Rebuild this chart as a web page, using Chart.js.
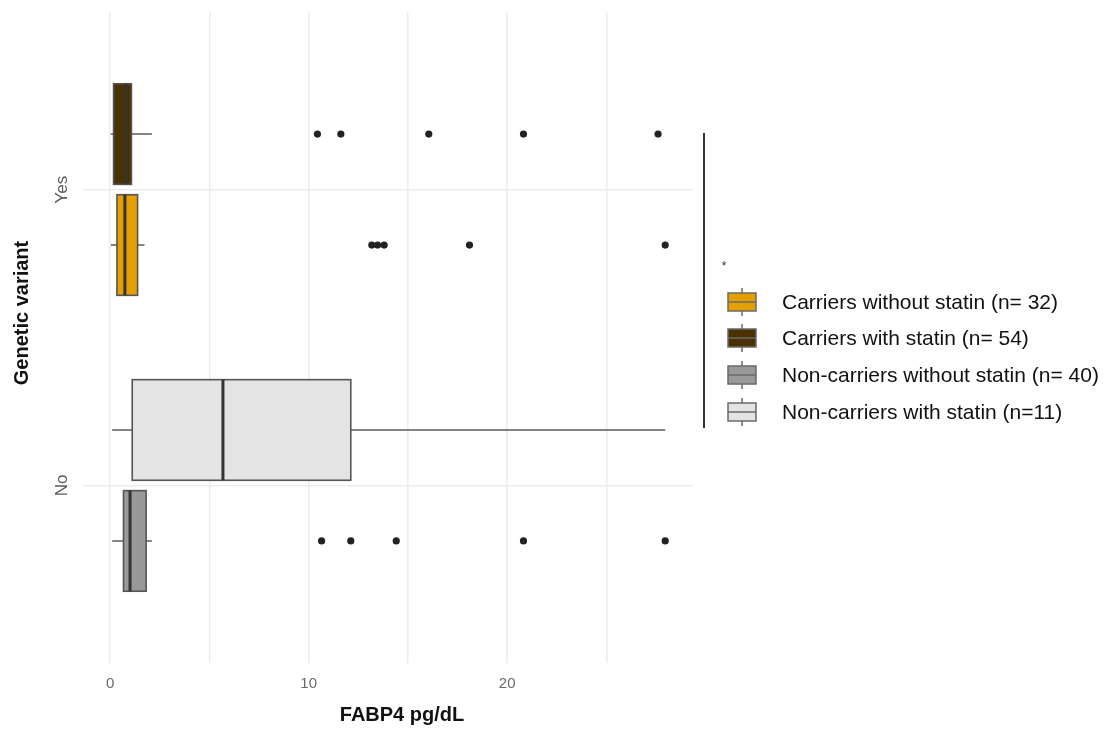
<!DOCTYPE html>
<html>
<head>
<meta charset="utf-8">
<script src="https://cdn.jsdelivr.net/npm/chart.js@4/dist/chart.umd.min.js"></script>
<style>
  html, body { margin: 0; padding: 0; background: #ffffff; }
  canvas { display: block; }
</style>
</head>
<body>
<canvas id="chart" width="1110" height="729"></canvas>
<script>
// Categories of the y axis (bottom to top)
const categories = ['No', 'Yes'];

// Groups, in legend order
const groups = [
  'Carriers without statin (n= 32)',
  'Carriers with statin (n= 54)',
  'Non-carriers without statin (n= 40)',
  'Non-carriers with statin (n=11)'
];
const groupCategory = ['Yes', 'Yes', 'No', 'No'];
const groupStatin = [false, true, false, true];

// Box-plot statistics of FABP4 (pg/dL) per group
const whiskerLow  = [0.03, 0.03, 0.10, 0.10];
const q1          = [0.34, 0.17, 0.67, 1.11];
const median      = [0.74, 0.78, 1.00, 5.68];
const q3          = [1.38, 1.07, 1.81, 12.12];
const whiskerHigh = [1.73, 2.10, 2.10, 27.96];
const outliers = [
  [13.18, 13.47, 13.80, 18.10, 27.96],
  [10.44, 11.62, 16.05, 20.82, 27.60],
  [10.65, 12.12, 14.41, 20.82, 27.96],
  []
];

// x-axis breaks
const xBreaks = [0, 5, 10, 15, 20, 25];
const xLabelled = [0, 10, 20];

const fills = ['#E69F00', '#4B3100', '#999999', '#E4E4E4'];
const FONT = '"Liberation Sans", Arial, sans-serif';

// dodge: statin group above, non-statin group below each category
const DODGE = 0.1875;
const HALF = 0.17;
function groupY(i) {
  const base = categories.indexOf(groupCategory[i]) + 1;
  return base + (groupStatin[i] ? DODGE : -DODGE);
}

const datasets = groups.map((g, i) => ({
  label: g,
  data: outliers[i].map(v => ({ x: v, y: groupY(i) })),
  pointRadius: 3.6,
  pointHoverRadius: 3.6,
  backgroundColor: '#222222',
  borderWidth: 0
}));

const boxPlugin = {
  id: 'boxes',
  beforeDatasetsDraw(chart) {
    const ctx = chart.ctx;
    const xs = chart.scales.x, ys = chart.scales.y;
    ctx.save();
    groups.forEach((g, i) => {
      const yc = ys.getPixelForValue(groupY(i));
      const top = ys.getPixelForValue(groupY(i) + HALF);
      const bot = ys.getPixelForValue(groupY(i) - HALF);
      const xl = xs.getPixelForValue(whiskerLow[i]);
      const x1 = xs.getPixelForValue(q1[i]);
      const xm = xs.getPixelForValue(median[i]);
      const x3 = xs.getPixelForValue(q3[i]);
      const xh = xs.getPixelForValue(whiskerHigh[i]);
      // whiskers
      ctx.strokeStyle = '#5c5c5c';
      ctx.lineWidth = 1.6;
      ctx.beginPath();
      ctx.moveTo(xl, yc); ctx.lineTo(x1, yc);
      ctx.moveTo(x3, yc); ctx.lineTo(xh, yc);
      ctx.stroke();
      // box
      ctx.fillStyle = fills[i];
      ctx.fillRect(x1, top, x3 - x1, bot - top);
      ctx.strokeStyle = '#555555';
      ctx.lineWidth = 1.6;
      ctx.strokeRect(x1, top, x3 - x1, bot - top);
      // median
      ctx.strokeStyle = '#333333';
      ctx.lineWidth = 3;
      ctx.beginPath();
      ctx.moveTo(xm, top); ctx.lineTo(xm, bot);
      ctx.stroke();
    });
    ctx.restore();
  }
};

const decorPlugin = {
  id: 'decor',
  afterDraw(chart) {
    const ctx = chart.ctx;
    const ys = chart.scales.y;
    ctx.save();

    // y category labels (rotated)
    ctx.fillStyle = '#5a5a5a';
    ctx.font = '17px ' + FONT;
    ctx.textAlign = 'center';
    ctx.textBaseline = 'middle';
    categories.forEach((c, k) => {
      const y = ys.getPixelForValue(k + 1);
      ctx.save();
      ctx.translate(62, y);
      ctx.rotate(-Math.PI / 2);
      ctx.fillText(c, 0, 0);
      ctx.restore();
    });

    // y axis title
    ctx.fillStyle = '#111111';
    ctx.font = 'bold 20px ' + FONT;
    ctx.save();
    ctx.translate(22, 313);
    ctx.rotate(-Math.PI / 2);
    ctx.fillText('Genetic variant', 0, 0);
    ctx.restore();

    // x axis title
    ctx.font = 'bold 20px ' + FONT;
    ctx.fillText('FABP4 pg/dL', 402, 715);

    // significance bracket and star
    ctx.strokeStyle = '#333333';
    ctx.lineWidth = 2;
    ctx.beginPath();
    ctx.moveTo(704, 133);
    ctx.lineTo(704, 428);
    ctx.stroke();
    ctx.fillStyle = '#333333';
    ctx.font = '12px ' + FONT;
    ctx.fillText('*', 724, 267);

    // legend
    const rows = [302, 338, 375, 412];
    groups.forEach((g, i) => {
      const cy = rows[i], cx = 742, w = 28, h = 18;
      ctx.strokeStyle = '#6a6a6a';
      ctx.lineWidth = 1.5;
      ctx.beginPath();
      ctx.moveTo(cx, cy - h / 2 - 5); ctx.lineTo(cx, cy - h / 2);
      ctx.moveTo(cx, cy + h / 2); ctx.lineTo(cx, cy + h / 2 + 5);
      ctx.stroke();
      ctx.fillStyle = fills[i];
      ctx.fillRect(cx - w / 2, cy - h / 2, w, h);
      ctx.strokeRect(cx - w / 2, cy - h / 2, w, h);
      ctx.beginPath();
      ctx.moveTo(cx - w / 2, cy); ctx.lineTo(cx + w / 2, cy);
      ctx.stroke();
      ctx.fillStyle = '#111111';
      ctx.font = '21px ' + FONT;
      ctx.textAlign = 'left';
      ctx.fillText(g, 782, cy + 1);
      ctx.textAlign = 'center';
    });
    ctx.restore();
  }
};

new Chart(document.getElementById('chart'), {
  type: 'scatter',
  data: { datasets },
  options: {
    responsive: false,
    animation: false,
    layout: { padding: { top: 12, right: 417, left: 0, bottom: 0 } },
    plugins: { legend: { display: false }, tooltip: { enabled: false } },
    scales: {
      x: {
        type: 'linear',
        min: -1.37,
        max: 29.36,
        afterBuildTicks(scale) { scale.ticks = xBreaks.map(v => ({ value: v })); },
        afterFit(scale) { scale.height = 66; },
        border: { display: false },
        grid: { color: '#ececec', lineWidth: 1.5, drawTicks: false },
        ticks: {
          padding: 12,
          color: '#6b6b6b',
          font: { family: FONT, size: 15 },
          callback: v => (xLabelled.includes(v) ? String(v) : '')
        }
      },
      y: {
        type: 'linear',
        min: 0.4,
        max: 2.6,
        afterBuildTicks(scale) { scale.ticks = categories.map((c, k) => ({ value: k + 1 })); },
        afterFit(scale) { scale.width = 83; },
        border: { display: false },
        grid: { color: '#ececec', lineWidth: 1.5, drawTicks: false },
        ticks: { display: false }
      }
    }
  },
  plugins: [boxPlugin, decorPlugin]
});
</script>
</body>
</html>
